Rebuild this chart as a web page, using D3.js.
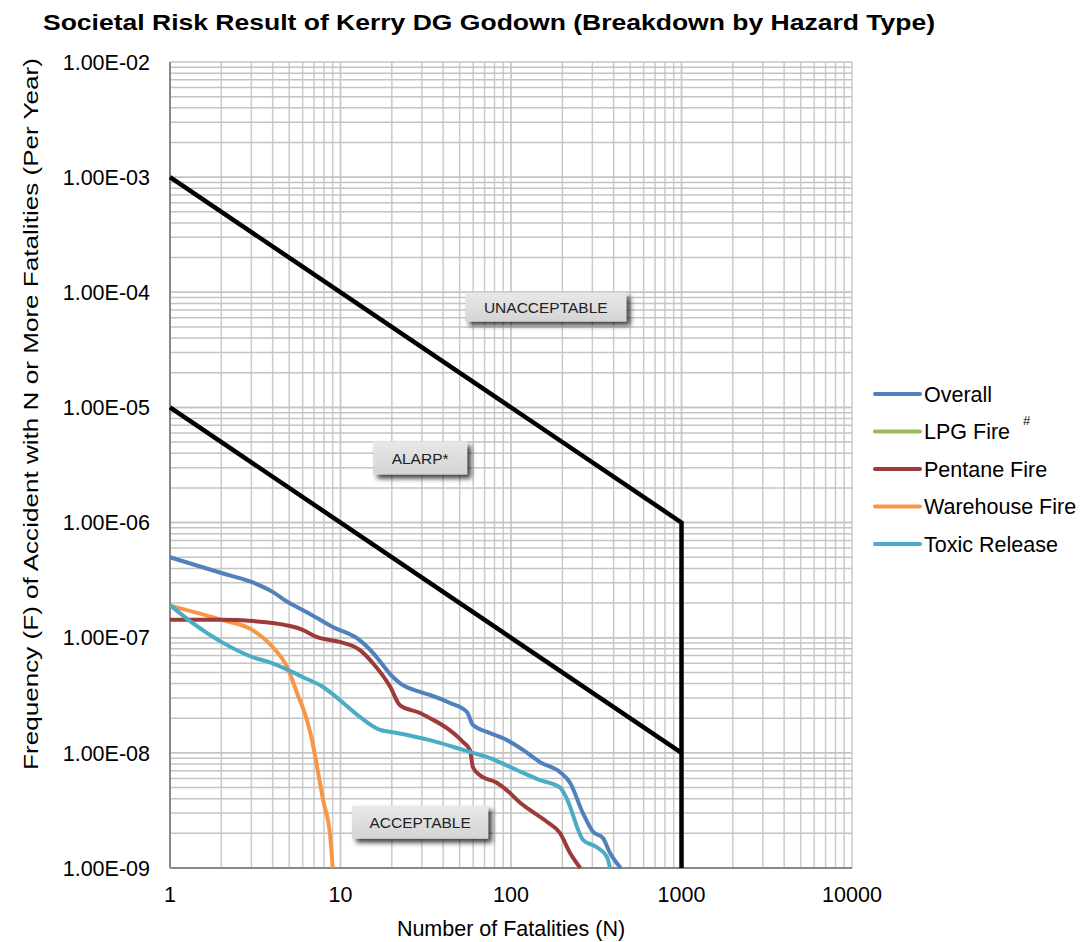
<!DOCTYPE html>
<html lang="en">
<head>
<meta charset="UTF-8">
<title>Societal Risk FN Curve</title>
<script src="https://d3js.org/d3.v7.min.js"></script>
<style>
  body { margin: 0; background: #fff; }
  text { font-family: "Liberation Sans", Arial, sans-serif; }
</style>
</head>
<body>
<div id="chart"></div>
<script>
// data: N (fatalities) and F (frequency per year)
const seriesNames = ["Overall", "LPG Fire", "Pentane Fire", "Warehouse Fire", "Toxic Release"];
const seriesColors = ["#4f81bd", "#9bbb59", "#9c3b38", "#f79646", "#4bacc6"];

const overallN = [1, 2, 3, 4, 4.9, 6, 7.3, 9, 12.5, 15.5, 20.3, 22.3, 29.3, 33.5, 43.9, 55.2, 59.8, 72.3, 94.8, 117.5, 148, 194, 222, 264, 303, 346, 381, 440];
const overallF = [5.0e-7, 3.65e-7, 3.05e-7, 2.5e-7, 2.04e-7, 1.74e-7, 1.48e-7, 1.24e-7, 9.9e-8, 7.4e-8, 4.56e-8, 4.04e-8, 3.38e-8, 3.18e-8, 2.71e-8, 2.26e-8, 1.75e-8, 1.52e-8, 1.29e-8, 1.06e-8, 8.3e-9, 6.8e-9, 5.5e-9, 3.0e-9, 2.06e-9, 1.82e-9, 1.35e-9, 1.0e-9];

// LPG fire lies below the plotted range
const lpgN = [];
const lpgF = [];

const pentaneN = [1, 2, 4, 6, 7.3, 9.9, 13, 15.5, 19.6, 22.3, 29.3, 33.5, 42.1, 52.4, 57.4, 59.8, 65.7, 82.6, 98.3, 112.7, 129, 163, 194, 222, 255];
const pentaneF = [1.43e-7, 1.43e-7, 1.34e-7, 1.17e-7, 1.01e-7, 9.2e-8, 7.8e-8, 6.0e-8, 3.73e-8, 2.6e-8, 2.22e-8, 2.0e-8, 1.64e-8, 1.24e-8, 1.06e-8, 7.5e-9, 6.4e-9, 5.5e-9, 4.5e-9, 3.7e-9, 3.19e-9, 2.51e-9, 2.01e-9, 1.35e-9, 1.0e-9];

const warehouseN = [1, 2, 3.03, 4, 4.86, 5.56, 6.35, 6.8, 7.3, 7.9, 8.7, 9.0];
const warehouseF = [1.9e-7, 1.43e-7, 1.17e-7, 8.3e-8, 5.57e-8, 3.31e-8, 1.93e-8, 1.3e-8, 7.5e-9, 3.9e-9, 1.9e-9, 1.0e-9];

const toxicN = [1, 1.36, 2, 3.03, 4, 6, 7.9, 9.9, 13, 17.1, 21.4, 33.5, 52.4, 75.3, 108, 148, 194, 211, 265, 318, 366, 381];
const toxicF = [1.92e-7, 1.34e-7, 9.2e-8, 6.8e-8, 6.0e-8, 4.56e-8, 3.73e-8, 2.88e-8, 2.05e-8, 1.58e-8, 1.49e-8, 1.29e-8, 1.06e-8, 9.0e-9, 7.1e-9, 5.8e-9, 5.0e-9, 4.1e-9, 1.75e-9, 1.52e-9, 1.24e-9, 1.0e-9];

// HK risk guidelines
const upperN = [1, 1000, 1000];
const upperF = [1e-3, 1e-6, 1e-9];
const lowerN = [1, 1000];
const lowerF = [1e-5, 1e-8];

const xTicks = [1, 10, 100, 1000, 10000];
const yTicks = [1e-9, 1e-8, 1e-7, 1e-6, 1e-5, 1e-4, 1e-3, 1e-2];

// region labels: text, N, F (centre)
const zoneText = ["UNACCEPTABLE", "ALARP*", "ACCEPTABLE"];
const zoneN = [160, 29.3, 29.3];
const zoneF = [7.45e-5, 3.64e-6, 2.5e-9];

const width = 1085, height = 942;
const margin = { top: 62, right: 233, bottom: 74, left: 170 };

const svg = d3.select("#chart").append("svg")
  .attr("width", width).attr("height", height);

const defs = svg.append("defs");
const shadow = defs.append("filter").attr("id", "shadow")
  .attr("x", "-20%").attr("y", "-30%").attr("width", "150%").attr("height", "180%");
shadow.append("feDropShadow").attr("dx", 4).attr("dy", 4).attr("stdDeviation", 2.5)
  .attr("flood-color", "#000").attr("flood-opacity", 0.75);
const grad = defs.append("linearGradient").attr("id", "boxfill")
  .attr("x1", 0).attr("y1", 0).attr("x2", 0).attr("y2", 1);
grad.append("stop").attr("offset", "0%").attr("stop-color", "#e8e8e8");
grad.append("stop").attr("offset", "100%").attr("stop-color", "#d4d4d4");

const x = d3.scaleLog().domain([1, 10000]).range([margin.left, width - margin.right]);
const y = d3.scaleLog().domain([1e-9, 1e-2]).range([height - margin.bottom, margin.top]);

// grid (major + minor)
const xGrid = [];
for (let d = 1; d < 10000; d *= 10) for (let k = 1; k <= 10; k++) xGrid.push(d * k);
const yGrid = [];
for (let d = 1e-9; d < 1e-2 * 0.99; d *= 10) for (let k = 1; k <= 10; k++) yGrid.push(d * k);

const grid = svg.append("g");
grid.selectAll("line.v").data(xGrid).join("line").attr("class", "v")
  .attr("x1", d => x(d)).attr("x2", d => x(d))
  .attr("y1", y(1e-2)).attr("y2", y(1e-9))
  .attr("stroke", "#cbcbcb").attr("stroke-width", 1.5);
grid.selectAll("line.h").data(yGrid).join("line").attr("class", "h")
  .attr("y1", d => y(d)).attr("y2", d => y(d))
  .attr("x1", x(1)).attr("x2", x(10000))
  .attr("stroke", "#c4c4c4").attr("stroke-width", 1.5);

// axes lines
svg.append("line").attr("x1", x(1)).attr("x2", x(1)).attr("y1", y(1e-2)).attr("y2", y(1e-9))
  .attr("stroke", "#888").attr("stroke-width", 2);
svg.append("line").attr("x1", x(1)).attr("x2", x(10000)).attr("y1", y(1e-9)).attr("y2", y(1e-9))
  .attr("stroke", "#888").attr("stroke-width", 2);

// tick labels
svg.append("g").selectAll("text").data(yTicks).join("text")
  .attr("x", x(1) - 20).attr("y", d => y(d)).attr("dy", "0.36em")
  .attr("text-anchor", "end").attr("font-size", 21.5).attr("fill", "#000")
  .text(d => d.toExponential(2).toUpperCase().replace(/E([+-])(\d)$/, "E$10$2"));
svg.append("g").selectAll("text").data(xTicks).join("text")
  .attr("x", d => x(d)).attr("y", y(1e-9) + 34)
  .attr("text-anchor", "middle").attr("font-size", 21.5).attr("fill", "#000")
  .text(d => d);

// risk criteria lines
const line = d3.line().x(d => x(d[0])).y(d => y(d[1]));
svg.append("path").datum(d3.zip(upperN, upperF)).attr("d", line)
  .attr("fill", "none").attr("stroke", "#000").attr("stroke-width", 4.5);
svg.append("path").datum(d3.zip(lowerN, lowerF)).attr("d", line)
  .attr("fill", "none").attr("stroke", "#000").attr("stroke-width", 4.5);

// FN curves
const smooth = d3.line().x(d => x(d[0])).y(d => y(d[1])).curve(d3.curveMonotoneX);
const seriesData = [
  d3.zip(overallN, overallF),
  d3.zip(lpgN, lpgF),
  d3.zip(pentaneN, pentaneF),
  d3.zip(warehouseN, warehouseF),
  d3.zip(toxicN, toxicF)
];
const drawOrder = [3, 2, 0, 4, 1];
drawOrder.forEach(i => {
  if (!seriesData[i].length) return;
  svg.append("path").datum(seriesData[i]).attr("d", smooth)
    .attr("fill", "none").attr("stroke", seriesColors[i])
    .attr("stroke-width", 4).attr("stroke-linejoin", "round");
});

// zone labels
const boxW = [161, 94, 136], boxH = [29, 33, 33];
zoneText.forEach((t, i) => {
  const cx = x(zoneN[i]), cy = y(zoneF[i]);
  const g = svg.append("g");
  g.append("rect").attr("x", cx - boxW[i] / 2).attr("y", cy - boxH[i] / 2)
    .attr("width", boxW[i]).attr("height", boxH[i])
    .attr("fill", "url(#boxfill)").attr("filter", "url(#shadow)");
  g.append("text").attr("x", cx).attr("y", cy).attr("dy", "0.36em")
    .attr("text-anchor", "middle").attr("font-size", 15.5).attr("fill", "#222")
    .text(t);
});

// legend
const legend = svg.append("g").attr("transform", "translate(875,394)");
seriesNames.forEach((n, i) => {
  const g = legend.append("g").attr("transform", `translate(0,${i * 37.5})`);
  g.append("line").attr("x1", 0).attr("x2", 45).attr("stroke", seriesColors[i])
    .attr("stroke-width", 4).attr("stroke-linecap", "round");
  g.append("text").attr("x", 49).attr("dy", "0.36em").attr("font-size", 21.5).text(n);
});
legend.append("text").attr("x", 148).attr("y", 37.5 - 7).attr("font-size", 13).text("#");

// titles
svg.append("text").attr("x", 43).attr("y", 30).attr("font-size", 22).attr("font-weight", "bold")
  .attr("textLength", 892).attr("lengthAdjust", "spacingAndGlyphs")
  .text("Societal Risk Result of Kerry DG Godown (Breakdown by Hazard Type)");
svg.append("text").attr("x", (x(1) + x(10000)) / 2).attr("y", 936)
  .attr("text-anchor", "middle").attr("font-size", 21.5)
  .text("Number  of Fatalities (N)");
svg.append("text").attr("transform", `translate(38,${(58 + 770) / 2}) rotate(-90)`)
  .attr("text-anchor", "middle").attr("font-size", 21)
  .attr("textLength", 712).attr("lengthAdjust", "spacingAndGlyphs")
  .text("Frequency (F) of Accident with N or More Fatalities (Per Year)");
</script>
</body>
</html>
